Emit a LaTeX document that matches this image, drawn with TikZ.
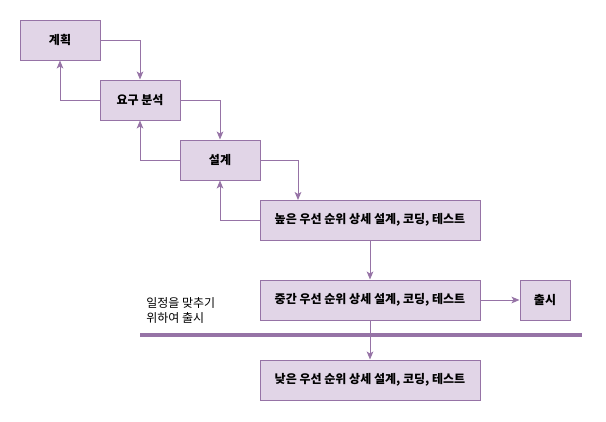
\documentclass[tikz,border=0pt]{standalone}
\usepackage{fontspec}
\setmainfont{Noto Sans CJK KR}
\usepackage{tikz}
\usetikzlibrary{arrows.meta, positioning}

\definecolor{boxfill}{HTML}{E1D5E7}
\definecolor{boxline}{HTML}{9673A6}

\tikzset{
    stage/.style={draw=boxline, fill=boxfill, line width=0.75pt, minimum height=30pt,
        font=\fontsize{9}{11}\selectfont\bfseries, inner sep=0pt},
    small/.style={stage, minimum width=60pt},
    wide/.style={stage, minimum width=165pt},
    flow/.style={draw=boxline, line width=0.75pt, -{Stealth[length=6pt, width=5pt, inset=1.5pt]}}
}

\begin{document}
\begin{tikzpicture}[x=0.75pt, y=-0.75pt]
            \useasboundingbox (0,0) rectangle (606,421);

            % Stages
            \node[small] (plan) at (60,40) {계획};
            \node[small] (req) at (140,100) {요구 분석};
            \node[small] (design) at (220,160) {설계};
            \node[wide] (high) at (370,220) {높은 우선 순위 상세 설계, 코딩, 테스트};
            \node[wide] (mid) at (370,300) {중간 우선 순위 상세 설계, 코딩, 테스트};
            \node[stage, minimum width=37.5pt] (release) at (545,300) {출시};
            \node[wide] (low) at (370,380) {낮은 우선 순위 상세 설계, 코딩, 테스트};
            \coordinate (highin) at (298,200);

            % Deadline
            \draw[draw=boxline, line width=3pt] (140,335) coordinate (cutl) -- (582,335) coordinate (cutr);
            \node[anchor=north west, align=left, inner sep=0pt, font=\fontsize{9}{11.5}\selectfont] (note) at (146,297) {일정을 맞추기\\위하여 출시};

            % Forward
            \draw[flow] (plan.east) -| (req.north);
            \draw[flow] (req.east) -| (design.north);
            \draw[flow] (design.east) -| (highin);
            \draw[flow] (high.south) -- (mid.north);
            \draw[flow] (mid.east) -- (release.west);
            \draw[flow] (mid.south) -- (low.north);

            % Back
            \draw[flow] (req.west) -| (plan.south);
            \draw[flow] (design.west) -| (req.south);
            \draw[flow] (high.west) -| (design.south);
\end{tikzpicture}
\end{document}
